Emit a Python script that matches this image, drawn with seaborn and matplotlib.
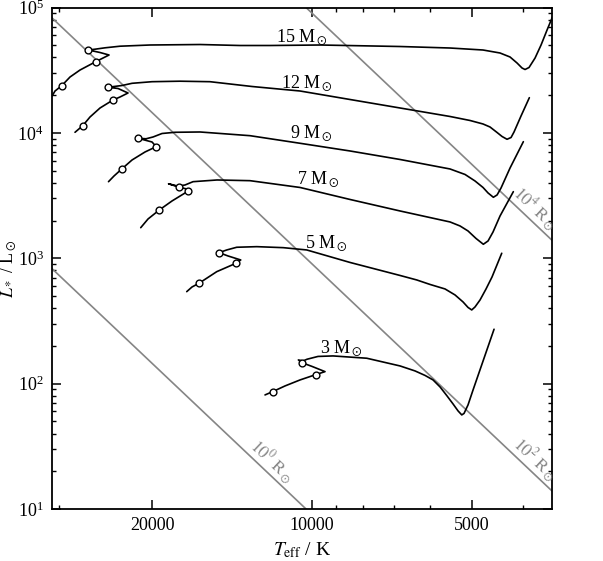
import numpy as np
import pandas as pd
import matplotlib
matplotlib.use("Agg")
import matplotlib.pyplot as plt
import seaborn as sns
from matplotlib.ticker import FixedLocator, LogLocator, NullFormatter, FuncFormatter

# ---------------- data (log10 Teff [K], log10 L [Lsun]) ----------------
logT_15 = [4.4906, 4.4849, 4.4723, 4.4566, 4.4377, 4.4081, 4.3943, 4.3830, 4.4000, 4.4221,
           4.4094, 4.3906, 4.3623, 4.3057, 4.2113, 4.1358, 4.0792, 3.9849, 3.8340, 3.7396,
           3.6774, 3.6453, 3.6264, 3.6132, 3.6038, 3.5981, 3.5906, 3.5792, 3.5679, 3.5566,
           3.5472, 3.5396]
logL_15 = [4.2943, 4.3341, 4.3764, 4.4458, 4.5016, 4.5678, 4.5973, 4.6212, 4.6411, 4.6611,
           4.6675, 4.6786, 4.6914, 4.7010, 4.7049, 4.6970, 4.6970, 4.7010, 4.6890, 4.6770,
           4.6611, 4.6372, 4.6053, 4.5574, 4.5175, 4.5056, 4.5215, 4.5973, 4.7010, 4.8206,
           4.9163, 4.9801]
circles_15 = [2, 5, 9]

logT_12 = [4.4472, 4.4326, 4.4189, 4.4000, 4.3755, 4.3623, 4.3472, 4.3660, 4.3843, 4.3736,
           4.3585, 4.3396, 4.3019, 4.2491, 4.1925, 4.1132, 4.0226, 3.9283, 3.8340, 3.7396,
           3.7019, 3.6774, 3.6642, 3.6509, 3.6415, 3.6321, 3.6245, 3.6189, 3.6057, 3.5900]
logL_12 = [4.0048, 4.0574, 4.1268, 4.1986, 4.2624, 4.2863, 4.3182, 4.3541, 4.3636, 4.3700,
           4.3780, 4.3955, 4.4083, 4.4123, 4.4083, 4.3700, 4.3341, 4.2663, 4.1986, 4.1308,
           4.0989, 4.0710, 4.0470, 4.0032, 3.9713, 3.9490, 3.9633, 4.0072, 4.1348, 4.2807]
circles_12 = [1, 4, 8]

logT_9 = [4.3840, 4.3736, 4.3594, 4.3396, 4.3151, 4.2940, 4.3019, 4.3283, 4.3132, 4.3000,
          4.2830, 4.2585, 4.2113, 4.1170, 4.0226, 3.9283, 3.8340, 3.7396, 3.7113, 3.6925,
          3.6774, 3.6679, 3.6579, 3.6509, 3.6434, 3.6264, 3.6013]
logL_9 = [3.6108, 3.6563, 3.7105, 3.7839, 3.8477, 3.8900, 3.9274, 3.9569, 3.9530, 3.9673,
          3.9952, 4.0048, 4.0072, 3.9777, 3.9171, 3.8557, 3.7879, 3.7121, 3.6683, 3.6164,
          3.5646, 3.5207, 3.4864, 3.5048, 3.5606, 3.7201, 3.9298]
circles_9 = [2, 5, 7]

logT_7 = [4.3232, 4.3094, 4.2881, 4.2642, 4.2334, 4.2283, 4.2504, 4.2708, 4.2528, 4.2396,
          4.2245, 4.1792, 4.1170, 4.0226, 3.9283, 3.8340, 3.7396, 3.7208, 3.7057, 3.6906,
          3.6768, 3.6679, 3.6585, 3.6453, 3.6202]
logL_7 = [3.2440, 3.3134, 3.3852, 3.4569, 3.5367, 3.5447, 3.5662, 3.5941, 3.5750, 3.5845,
          3.6108, 3.6244, 3.6188, 3.5646, 3.4689, 3.3772, 3.2895, 3.2576, 3.2177, 3.1579,
          3.1116, 3.1380, 3.2097, 3.3373, 3.5311]
circles_7 = [2, 4, 6]

logT_5 = [4.2364, 4.2264, 4.2132, 4.1798, 4.1434, 4.1345, 4.1585, 4.1755, 4.1609, 4.1421,
          4.1043, 4.0542, 4.0100, 3.9283, 3.8340, 3.8025, 3.7774, 3.7491, 3.7302, 3.7151,
          3.7057, 3.6987, 3.6925, 3.6830, 3.6717, 3.6604, 3.6421]
logL_5 = [2.7337, 2.7711, 2.8006, 2.8931, 2.9601, 2.9864, 3.0183, 3.0447, 3.0662, 3.0877,
          3.0925, 3.0845, 3.0662, 2.9665, 2.8628, 2.8270, 2.7911, 2.7552, 2.7073, 2.6515,
          2.6077, 2.5877, 2.6116, 2.6675, 2.7552, 2.8509, 3.0399]
circles_5 = [2, 4, 7]

logT_3 = [4.0887, 4.0742, 4.0509, 4.0226, 3.9930, 3.9755, 4.0000, 4.0194, 4.0258, 4.0170,
          4.0094, 3.9887, 3.9604, 3.8968, 3.8340, 3.8057, 3.7868, 3.7717, 3.7585, 3.7453,
          3.7340, 3.7245, 3.7175, 3.7132, 3.7057, 3.6962, 3.6566]
logL_3 = [1.9099, 1.9362, 1.9817, 2.0295, 2.0718, 2.0957, 2.1372, 2.1675, 2.1890, 2.1810,
          2.1946, 2.2169, 2.2209, 2.2026, 2.1411, 2.1013, 2.0654, 2.0295, 1.9737, 1.9019,
          1.8381, 1.7823, 1.7504, 1.7624, 1.8301, 1.9498, 2.4338]
circles_3 = [1, 4, 7]

masses = [15, 12, 9, 7, 5, 3]
radii = [1, 10, 100]                       # constant-radius lines, R / Rsun
radius_labels = ["$10^0$ R$_\\odot$", "$10^2$ R$_\\odot$", "$10^4$ R$_\\odot$"]
T_sun = 5772.0

x_major = [5000, 10000, 20000]

# ---------------- style ----------------
sns.set_theme(style="ticks")
plt.rcParams["font.family"] = ["Liberation Serif", "DejaVu Serif"]
plt.rcParams["mathtext.fontset"] = "stix"

fig = plt.figure(figsize=(6.03, 5.61), dpi=100)
ax = fig.add_axes([0.0862, 0.0927, 0.8292, 0.8939])

T_lo, T_hi = 3526.0, 30950.0
L_lo, L_hi = 10.0, 1.0e5

# constant radius lines
Tline = np.array([2000.0, 60000.0])
for R in radii:
    Lline = R ** 2 * (Tline / T_sun) ** 4
    sns.lineplot(x=Tline, y=Lline, color="#858585", lw=1.2, ax=ax, sort=False,
                 estimator=None, zorder=1)

tracks = {
    15: (logT_15, logL_15, circles_15),
    12: (logT_12, logL_12, circles_12),
    9: (logT_9, logL_9, circles_9),
    7: (logT_7, logL_7, circles_7),
    5: (logT_5, logL_5, circles_5),
    3: (logT_3, logL_3, circles_3),
}
for m in masses:
    lt, ll, circ = tracks[m]
    df = pd.DataFrame({"T": 10 ** np.array(lt), "L": 10 ** np.array(ll)})
    sns.lineplot(data=df, x="T", y="L", sort=False, estimator=None, color="black",
                 lw=1.2, ax=ax, zorder=2)
    dc = df.iloc[circ]
    sns.scatterplot(data=dc, x="T", y="L", marker="o", s=24, color="white",
                    edgecolor="black", linewidth=1.0, ax=ax, zorder=3)

ax.set_xscale("log")
ax.set_yscale("log")
ax.set_xlim(T_hi, T_lo)
ax.set_ylim(L_lo, L_hi)

# track labels
label_pos = {15: (4.0194, 4.7648), 12: (4.0094, 4.3979), 9: (4.0006, 3.9992),
             7: (3.9887, 3.6324), 5: (3.9723, 3.1180), 3: (3.9440, 2.2823)}
for m in masses:
    lt, ll = label_pos[m]
    ax.text(10 ** lt, 10 ** ll, f"{m} M$_\\odot$", ha="center", va="center",
            fontsize=13, color="black", zorder=4)

# radius line labels
rl_pos = [4.0906, 3.5943, 3.5943]
for R, lab, lt in zip(radii, radius_labels, rl_pos):
    T = 10 ** lt
    L = R ** 2 * (T / T_sun) ** 4
    ax.text(T, L, lab, rotation=-43.4, rotation_mode="anchor", ha="center",
            va="bottom", fontsize=12.5, color="#858585", zorder=4)

# ticks
ax.xaxis.set_major_locator(FixedLocator(x_major))
ax.xaxis.set_major_formatter(FuncFormatter(lambda v, p: f"{int(round(v))}"))
ax.xaxis.set_minor_locator(LogLocator(base=10, subs=np.arange(2, 10)))
ax.xaxis.set_minor_formatter(NullFormatter())
ax.yaxis.set_major_locator(LogLocator(base=10))
ax.yaxis.set_minor_locator(LogLocator(base=10, subs=np.arange(2, 10)))
ax.yaxis.set_minor_formatter(NullFormatter())

ax.tick_params(which="both", direction="in", top=True, right=True, colors="black",
               labelsize=13)
ax.tick_params(which="major", length=6.5, width=1.1)
ax.tick_params(which="minor", length=3.2, width=1.0)
ax.tick_params(axis="x", which="major", pad=6)
ax.tick_params(axis="y", which="major", pad=6)
for s in ax.spines.values():
    s.set_linewidth(1.3)
    s.set_color("black")

ax.set_xlabel("$T_\\mathrm{eff}$ / K", fontsize=14, labelpad=4, color="black")
ax.set_ylabel("$L_*$ / L$_\\odot$", fontsize=13, color="black")
ax.yaxis.set_label_coords(-0.067, 0.48)

fig.savefig("out.png", dpi=100)
